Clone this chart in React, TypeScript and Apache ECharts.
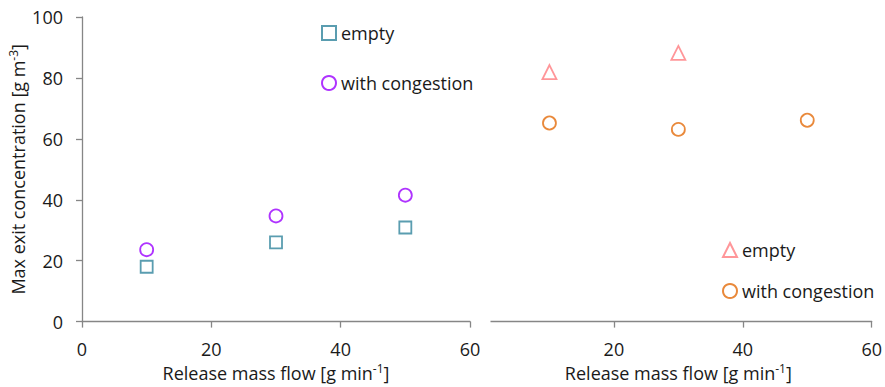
import React, { useEffect, useRef } from 'react';
import * as echarts from 'echarts';

const massFlow = [10, 30, 50];
const leftEmpty = [18.0, 26.0, 30.9];
const leftCongestion = [23.6, 34.7, 41.5];
const rightEmptyFlow = [10, 30];
const rightEmpty = [81.9, 88.2];
const rightCongestion = [65.2, 63.1, 66.1];

const legendLabels: Record<string, string> = {
  'A empty': 'empty',
  'A with congestion': 'with congestion',
  'B empty': 'empty',
  'B with congestion': 'with congestion',
};

const FONT = 'Open Sans';
const TXT = '#1a1a1a';
const AXIS = '#868686';

const zip = (xs: number[], ys: number[]) => xs.map((x, i) => [x, ys[i]]);

export default function App() {
  const ref = useRef<HTMLDivElement>(null);
  useEffect(() => {
    document.body.style.margin = '0';
    const chart = echarts.init(ref.current!, undefined, { renderer: 'svg' });
    const sup = { fontSize: 12, fontFamily: FONT, color: TXT, padding: [0, 0, 9, 0] };
    const nameStyle = { fontSize: 18, fontFamily: FONT, color: TXT, rich: { sup } };
    const xCommon = {
      type: 'value',
      min: 0,
      max: 60,
      interval: 20,
      axisLine: { show: true, lineStyle: { color: AXIS, width: 1.3 } },
      axisTick: { show: true, length: 6, lineStyle: { color: AXIS, width: 1.3 } },
      splitLine: { show: false },
      nameLocation: 'middle',
      nameGap: 40,
      nameTextStyle: nameStyle,
      name: 'Release mass flow [g min{sup|-1}]',
    };
    const sym = (color: string) => ({ color: '#ffffff', borderColor: color, borderWidth: 1.8 });
    chart.setOption({
      animation: false,
      grid: [
        { left: 82, top: 17, width: 388, height: 306 },
        { left: 485, top: 17, width: 388, height: 306 },
      ],
      xAxis: [
        {
          ...xCommon,
          gridIndex: 0,
          axisLabel: { fontSize: 18, fontFamily: FONT, color: TXT, margin: 18 },
        },
        {
          ...xCommon,
          gridIndex: 1,
          axisLabel: {
            fontSize: 18,
            fontFamily: FONT,
            color: TXT,
            margin: 18,
            formatter: (v: number) => (v === 0 ? '' : String(v)),
          },
        },
      ],
      yAxis: [
        {
          type: 'value',
          gridIndex: 0,
          min: 0,
          max: 100,
          interval: 20,
          axisLine: { show: true, lineStyle: { color: AXIS, width: 1.3 } },
          axisTick: { show: true, length: 6, lineStyle: { color: AXIS, width: 1.3 } },
          splitLine: { show: false },
          axisLabel: { fontSize: 18, fontFamily: FONT, color: TXT, margin: 19 },
          name: 'Max exit concentration [g m{sup|-3}]',
          nameLocation: 'middle',
          nameGap: 54,
          nameTextStyle: nameStyle,
        },
        { type: 'value', gridIndex: 1, min: 0, max: 100, interval: 20, show: false },
      ],
      legend: [
        {
          data: ['A empty', 'A with congestion'],
          orient: 'vertical',
          left: 316,
          top: 19,
          itemWidth: 14,
          itemHeight: 14,
          itemGap: 32,
          formatter: (n: string) => legendLabels[n],
          textStyle: { fontSize: 18, fontFamily: FONT, color: TXT },
          selectedMode: false,
        },
        {
          data: ['B empty', 'B with congestion'],
          orient: 'vertical',
          left: 717,
          top: 236,
          itemWidth: 14,
          itemHeight: 14,
          itemGap: 23,
          formatter: (n: string) => legendLabels[n],
          textStyle: { fontSize: 18, fontFamily: FONT, color: TXT },
          selectedMode: false,
        },
      ],
      series: [
        {
          name: 'A empty',
          type: 'scatter',
          xAxisIndex: 0,
          yAxisIndex: 0,
          symbol: 'rect',
          symbolSize: 12,
          itemStyle: sym('#31859C'),
          data: zip(massFlow, leftEmpty),
        },
        {
          name: 'A with congestion',
          type: 'scatter',
          xAxisIndex: 0,
          yAxisIndex: 0,
          symbol: 'circle',
          symbolSize: 13,
          itemStyle: sym('#9B00FF'),
          data: zip(massFlow, leftCongestion),
        },
        {
          name: 'B empty',
          type: 'scatter',
          xAxisIndex: 1,
          yAxisIndex: 1,
          symbol: 'triangle',
          symbolSize: 14,
          itemStyle: sym('#FF7C80'),
          data: zip(rightEmptyFlow, rightEmpty),
        },
        {
          name: 'B with congestion',
          type: 'scatter',
          xAxisIndex: 1,
          yAxisIndex: 1,
          symbol: 'circle',
          symbolSize: 13,
          itemStyle: sym('#E46C0A'),
          data: zip(massFlow, rightCongestion),
        },
      ],
      graphic: [
        {
          type: 'rect',
          shape: { x: 482.5, y: 318, width: 8, height: 16 },
          style: { fill: '#ffffff' },
          z: 100,
        },
      ],
    });
    return () => chart.dispose();
  }, []);
  return <div ref={ref} style={{ width: 885, height: 387 }} />;
}
